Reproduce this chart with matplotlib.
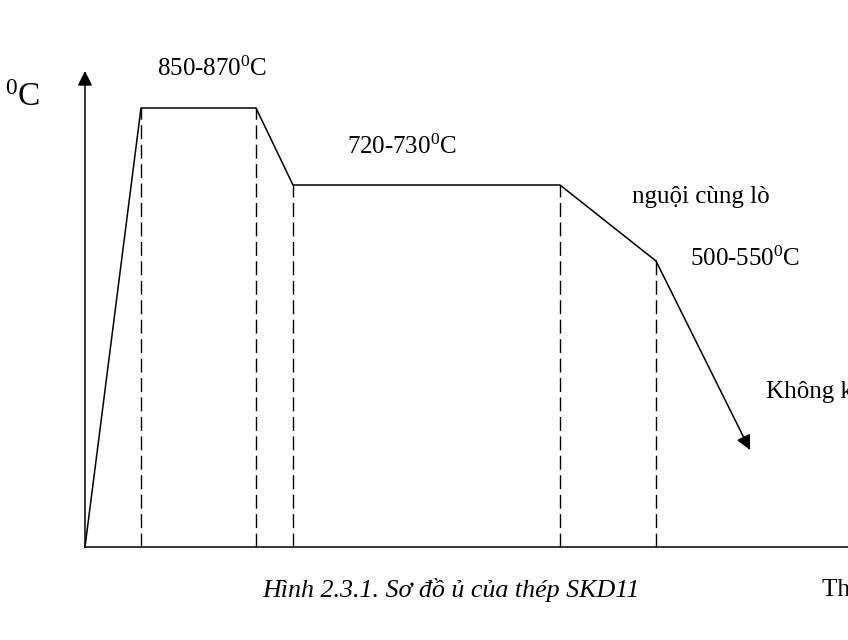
import matplotlib.pyplot as plt

plt.rcParams['font.family'] = ['Liberation Serif', 'DejaVu Serif']
plt.rcParams['mathtext.fontset'] = 'custom'
plt.rcParams['mathtext.rm'] = 'Liberation Serif'
plt.rcParams['mathtext.it'] = 'Liberation Serif:italic'

# annealing schedule (time / temperature in drawing units)
time = [0, 56, 171, 208, 475, 571]
temp = [0, 439, 439, 362, 362, 286]
air_end = (665, 97)          # end of the air-cooling arrow
steps = [56, 171, 208, 475, 571]   # dashed guide lines
step_temp = [439, 439, 362, 362, 286]

labels = ['850-870$^\\mathrm{0}$C', '720-730$^\\mathrm{0}$C', 'nguội cùng lò',
          '500-550$^\\mathrm{0}$C', 'Không khí']
label_pos = [(72, 478), (262, 400), (547, 350), (605, 288), (681, 155)]
caption = 'Hình 2.3.1. Sơ đồ ủ của thép SKD11'

fig = plt.figure(figsize=(8.48, 6.4), dpi=100)
ax = fig.add_axes([0, 0, 1, 1])
ax.set_xlim(-85, 763)
ax.set_ylim(-93, 547)
ax.axis('off')

lw = 1.1
# axes
ax.plot([0, 763], [0, 0], color='black', lw=lw)
ax.annotate('', xy=(0, 476), xytext=(0, 0),
            arrowprops=dict(arrowstyle='-|>', color='black', lw=lw,
                            mutation_scale=22, shrinkA=0, shrinkB=0))

# schedule line
ax.plot(time, temp, color='black', lw=lw)
ax.annotate('', xy=air_end, xytext=(time[-1], temp[-1]),
            arrowprops=dict(arrowstyle='-|>', color='black', lw=lw,
                            mutation_scale=22, shrinkA=0, shrinkB=0))

for x, y in zip(steps, step_temp):
    ax.plot([x, x], [0, y], color='black', lw=1.0, dashes=(10, 4))

for s, (x, y) in zip(labels, label_pos):
    ax.text(x, y, s, fontsize=18, ha='left', va='center')

ax.text(-80, 449, '$^\\mathrm{0}$C', fontsize=24, ha='left', va='center')
ax.text(177, -43, caption, fontsize=18.7, style='italic', ha='left', va='center')
ax.text(737, -43, 'Thời gian', fontsize=18, ha='left', va='center')

fig.savefig('out.png', dpi=100)
